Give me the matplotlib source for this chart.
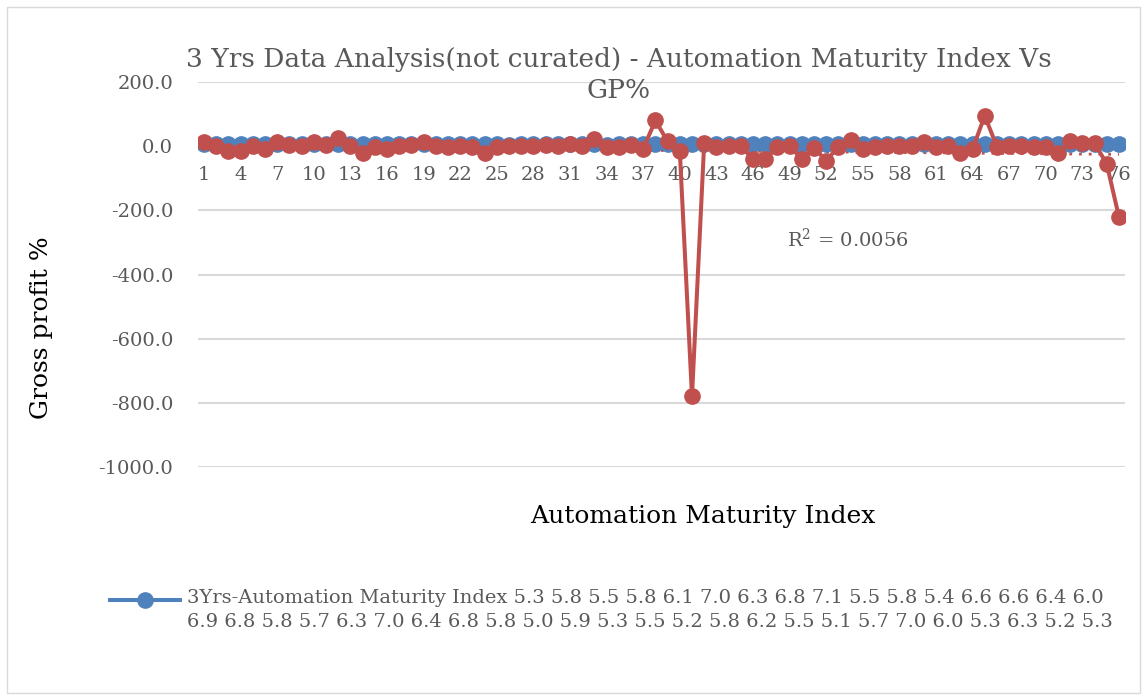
import numpy as np
import matplotlib
matplotlib.use("Agg")
import matplotlib.pyplot as plt
from matplotlib.lines import Line2D
from matplotlib.patches import Rectangle
from matplotlib.ticker import FuncFormatter

plt.rcParams['font.family'] = ['DejaVu Serif']
plt.rcParams['mathtext.fontset'] = 'dejavuserif'

# 3 yrs automation maturity index (blue) and gross profit % (red), per company
ami = [5.3, 5.8, 5.5, 5.8, 6.1, 7.0, 6.3, 6.8, 7.1, 5.5, 5.8, 5.4, 6.6, 6.6, 6.4, 6.0,
       6.9, 6.8, 5.8, 5.7, 6.3, 7.0, 6.4, 6.8, 5.8, 5.0, 5.9, 5.3, 5.5, 5.2, 5.8, 6.2,
       5.5, 5.1, 5.7, 7.0, 6.0, 5.3, 6.3, 5.2, 5.3, 6.1, 5.9, 6.4, 5.6, 6.7, 5.8, 6.0,
       5.4, 6.5, 5.9, 6.2, 5.7, 6.8, 5.5, 6.1, 5.9, 6.3, 5.6, 6.6, 5.8, 6.0, 5.4, 6.2,
       5.9, 6.5, 5.7, 6.1, 5.8, 6.4, 5.6, 6.0, 5.9, 6.3, 5.5, 6.1]
gp = [12, 0, -15, -15, 0, -8, 12, 5, 0, 12, 3, 25, 0, -20, -3, -10, 0, 4, 12, 2,
      -2, 0, -3, -20, -2, 0, 0, 0, 5, 2, 8, 0, 22, -3, -2, 5, -8, 80, 15, -15,
      -780, 10, -2, 0, 0, -40, -40, -2, 0, -40, -5, -45, -2, 20, -8, -2, 0, 0, 2, 12,
      -2, 0, -20, -10, 95, -2, 0, 0, -3, -2, -22, 15, 10, 10, -55, -220]
idx = list(range(1, len(gp) + 1))
y_ticks = [200, 0, -200, -400, -600, -800, -1000]

blue = '#4F81BD'
red = '#C0504D'

fig = plt.figure(figsize=(11.45, 7), dpi=100)
ax = fig.add_axes([198 / 1145, 1 - 467 / 700, (1125 - 198) / 1145, (467 - 82) / 700])

ax.plot(idx, ami, color=blue, lw=2.9, marker='o', ms=11, zorder=3)
ax.plot(idx, gp, color=red, lw=2.9, marker='o', ms=11, zorder=4)

# linear trendline for GP%
k, b = np.polyfit(idx, gp, 1)
xs = np.array(idx)
ax.plot(xs, k * xs + b, color=red, lw=2, ls=(0, (1, 2.5)), zorder=2)
ax.text(48.8, -290, 'R$^2$ = 0.0056', fontsize=14, color='#595959', va='center', ha='left')

ax.set_xlim(0.5, len(gp) + 0.5)
ax.set_ylim(-1000, 200)
ax.set_yticks(y_ticks)
ax.yaxis.set_major_formatter(FuncFormatter(lambda v, p: f"{v:.1f}"))
ax.set_xticks(idx[::3])
ax.grid(axis='y', color='#D9D9D9', lw=1.5)
ax.set_axisbelow(True)
for s in ['top', 'right', 'left']:
    ax.spines[s].set_visible(False)
ax.spines['bottom'].set_position(('data', 0))
ax.spines['bottom'].set_color('#D9D9D9')
ax.tick_params(axis='both', length=0, labelsize=14, colors='#595959')
ax.tick_params(axis='x', pad=14)
ax.tick_params(axis='y', pad=18)

fig.text(619 / 1145, 1 - 75 / 700, '3 Yrs Data Analysis(not curated) - Automation Maturity Index Vs\nGP%',
         ha='center', va='center', fontsize=19, color='#595959', linespacing=1.35)
fig.text(42 / 1145, 1 - 328 / 700, 'Gross profit %', rotation=90, ha='center', va='center', fontsize=18)
fig.text(703 / 1145, 1 - 516 / 700, 'Automation Maturity Index', ha='center', va='center', fontsize=18)

# legend (blue series only)
vals = [f"{v:.1f}" for v in ami[:41]]
label = '3Yrs-Automation Maturity Index ' + ' '.join(vals[:16]) + '\n' + ' '.join(vals[16:])
fig.add_artist(Line2D([110 / 1145, 145 / 1145, 180 / 1145], [1 - 600 / 700] * 3, color=blue,
                      lw=2.9, marker='o', ms=11, markevery=[1]))
fig.text(187 / 1145, 1 - 589 / 700, label, ha='left', va='top', fontsize=14, color='#595959', linespacing=1.45)

fig.add_artist(Rectangle((7 / 1145, 7 / 700), 1133 / 1145, 686 / 700, fill=False, ec='#D9D9D9', lw=1,
                         transform=fig.transFigure))

fig.savefig('out.png', dpi=100)
